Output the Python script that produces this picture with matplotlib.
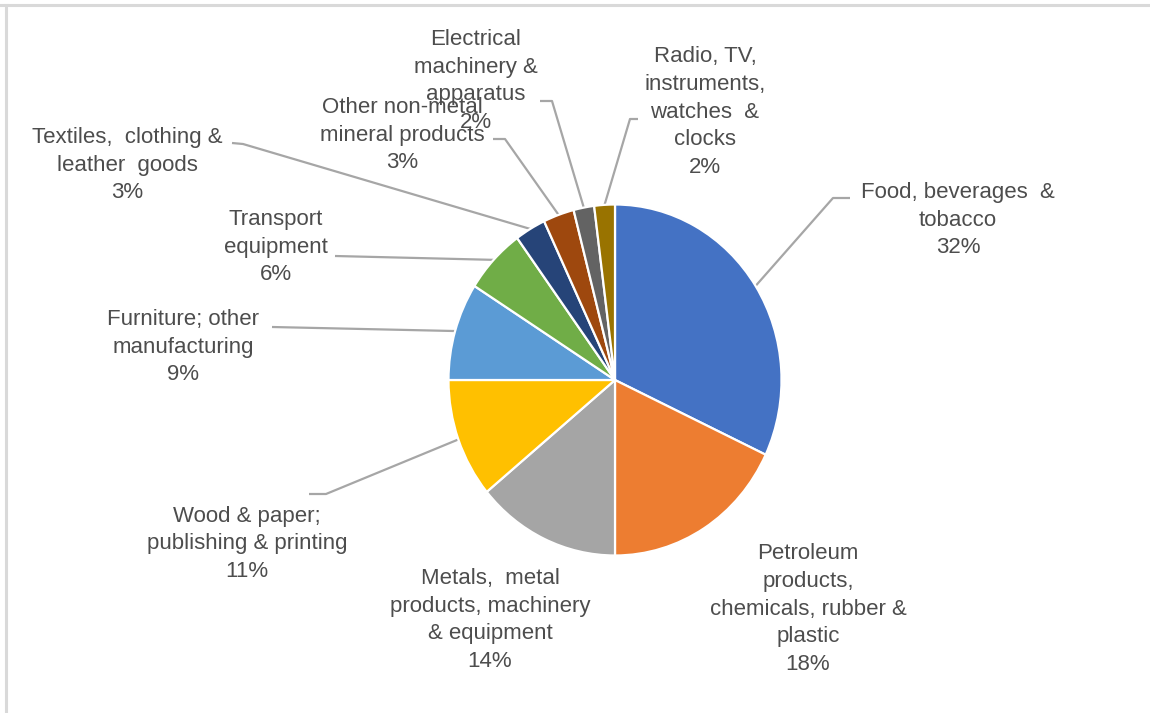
import numpy as np
import matplotlib
matplotlib.use("Agg")
import matplotlib.pyplot as plt
from matplotlib.lines import Line2D

# Share of manufacturing by sector (%), clockwise from 12 o'clock
sectors = [
    "Food, beverages  &\ntobacco",
    "Petroleum\nproducts,\nchemicals, rubber &\nplastic",
    "Metals,  metal\nproducts, machinery\n& equipment",
    "Wood & paper;\npublishing & printing",
    "Furniture; other\nmanufacturing",
    "Transport\nequipment",
    "Textiles,  clothing &\nleather  goods",
    "Other non-metal\nmineral products",
    "Electrical\nmachinery &\napparatus",
    "Radio, TV,\ninstruments,\nwatches  &\nclocks",
]
shares = [32, 18, 14, 11, 9, 6, 3, 3, 2, 2]
colors = ["#4472C4", "#ED7D31", "#A5A5A5", "#FFC000", "#5B9BD5",
          "#70AD47", "#264478", "#9E480E", "#636363", "#997300"]

# layout in image pixels (top-left origin): label centre, leader elbow, leader end
label_pos = [(958, 220), (808, 609), (490, 620), (247, 544), (183, 347),
             (276, 247), (127, 165), (402, 135), (476, 81), (705, 112)]
leader = [((833, 198), (850, 198)), None, None,
          ((326, 494), (309, 494)), ((272, 327), (272, 327)),
          ((335, 256), (335, 256)), ((243, 144), (232, 143)),
          ((505, 139), (493, 139)), ((552, 101), (540, 101)),
          ((630, 119), (638, 119))]

W, H = 1150, 713
CX, CY = 615, 380      # pie centre in pixels
RX, RY = 166.5, 175.5  # pie radius in pixels (slightly squeezed picture)


def px(x, y):
    return (x - CX) / RX, (CY - y) / RY


fig = plt.figure(figsize=(W / 100, H / 100), dpi=100)
ax = fig.add_axes([0, 0, 1, 1])
ax.pie(shares, colors=colors, startangle=90, counterclock=False, radius=1,
       wedgeprops=dict(edgecolor="white", linewidth=1.6))
ax.set_aspect("auto")
ax.set_xlim(-CX / RX, (W - CX) / RX)
ax.set_ylim(-(H - CY) / RY, CY / RY)
ax.axis("off")

total = sum(shares)
cum = 0
for name, val, pos, ld in zip(sectors, shares, label_pos, leader):
    mid = np.deg2rad(90 - (cum + val / 2) / total * 360)
    cum += val
    tx, ty = px(*pos)
    ax.text(tx, ty, f"{name}\n{val}%", ha="center", va="center",
            fontsize=16, color="#4d4d4d", family="Liberation Sans",
            linespacing=1.43)
    if ld is not None:
        ex, ey = np.cos(mid), np.sin(mid)
        bx, by = px(*ld[0])
        fx, fy = px(*ld[1])
        ax.plot([ex, bx, fx], [ey, by, fy], color="#A6A6A6", lw=1.6,
                zorder=0, solid_capstyle="butt")

# chart frame (top and left edges visible)
fig.add_artist(Line2D([0, 1], [1 - 5 / H, 1 - 5 / H], color="#D9D9D9", lw=2.2))
fig.add_artist(Line2D([5.5 / W, 5.5 / W], [0, 1 - 5 / H], color="#D9D9D9", lw=2.2))

fig.savefig("out.png", dpi=100, facecolor="white")
